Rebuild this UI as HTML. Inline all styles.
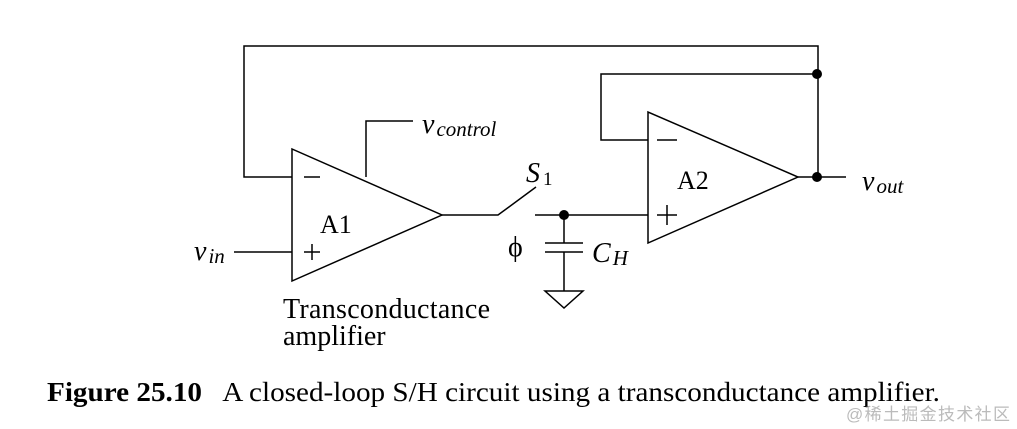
<!DOCTYPE html>
<html><head><meta charset="utf-8"><style>html,body{margin:0;padding:0;background:#fff}svg{display:block}
text{font-family:"Liberation Serif",serif}
.wm{font-family:"Liberation Sans","Noto Sans CJK SC",sans-serif}</style></head>
<body>
<svg width="1017" height="429" viewBox="0 0 1017 429" xmlns="http://www.w3.org/2000/svg">
<g stroke="#000" stroke-width="1.5" fill="none">
<path d="M292 177 H244 V46 H818 V177"/>
<polygon points="292,149 292,281 442,215"/>
<path d="M234 252 H292"/>
<path d="M366 177 V121 H413"/>
<path d="M442 215 H498 L536 187"/>
<path d="M535 215 H648"/>
<path d="M564 215 V243 M545 243 H583 M545 252 H583 M564 252 V291"/>
<polygon points="545,291 583,291 564,308"/>
<polygon points="648,112 648,243 798,177"/>
<path d="M648 140 H601 V74 H817"/>
<path d="M798 177 H846"/>
<path d="M304 177 H320 M304 252 H320 M312 244 V260"/>
<path d="M657 140 H677 M657 215 H677 M667 205 V225"/>
</g>
<g fill="#000">
<circle cx="564" cy="215" r="5"/><circle cx="817" cy="74" r="5"/><circle cx="817" cy="177" r="5"/>
<text x="194" y="260" font-size="28" font-style="italic">v<tspan font-size="21" dx="2" dy="3">in</tspan></text>
<text x="422" y="133" font-size="28" font-style="italic">v<tspan font-size="21" dx="2" dy="3">control</tspan></text>
<text x="320" y="233" font-size="26">A1</text>
<text x="677" y="189" font-size="26">A2</text>
<text x="526" y="182" font-size="28" font-style="italic">S<tspan font-size="19" font-style="normal" dx="3" dy="3">1</tspan></text>
<text x="508" y="256" font-size="28">ϕ</text>
<text x="592" y="262" font-size="28" font-style="italic">C<tspan font-size="21" dx="2" dy="3">H</tspan></text>
<text x="862" y="190" font-size="28" font-style="italic">v<tspan font-size="21" dx="2" dy="3">out</tspan></text>
<text x="283" y="318" font-size="28" textLength="207">Transconductance</text>
<text x="283" y="345" font-size="28">amplifier</text>
<text x="47" y="401" font-size="27" textLength="893" lengthAdjust="spacingAndGlyphs" xml:space="preserve"><tspan font-weight="bold">Figure 25.10</tspan>   A closed-loop S/H circuit using a transconductance amplifier.</text>
<text class="wm" x="846" y="420" font-size="17" fill="#bbb" textLength="164">@稀土掘金技术社区</text>
</g>
</svg>
</body></html>
